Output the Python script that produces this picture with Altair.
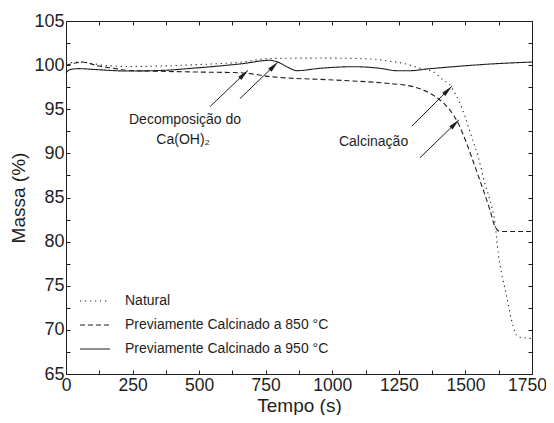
import altair as alt
import pandas as pd

# ---- data ----
series_names = ["Natural",
                "Previamente Calcinado a 850 °C",
                "Previamente Calcinado a 950 °C"]

t_nat = [0, 50, 150, 235, 360, 485, 661, 766, 950, 1141, 1204, 1267, 1329, 1379,
         1417, 1442, 1461, 1479, 1498, 1523, 1548, 1573, 1592, 1611, 1623, 1636,
         1655, 1673, 1698, 1736, 1750]
m_nat = [100.2, 100.35, 99.95, 99.85, 99.9, 100.05, 100.35, 100.75, 100.8, 100.7,
         100.5, 100.2, 99.65, 99.25, 98.3, 97.75, 96.8, 95.7, 94.2, 91.9, 89.6,
         86.6, 84.7, 82.1, 78.7, 76.4, 73.8, 71.1, 69.2, 69.05, 69.0]

t_850 = [0, 35, 60, 85, 123, 173, 235, 360, 485, 648, 700, 766, 1016, 1204, 1304,
         1367, 1404, 1442, 1473, 1505, 1536, 1567, 1592, 1611, 1630, 1750]
m_850 = [99.98, 100.24, 100.35, 100.2, 99.9, 99.67, 99.4, 99.3, 99.22, 99.14, 99.0,
         98.7, 98.3, 97.94, 97.56, 96.8, 96.05, 94.9, 93.4, 91.1, 88.5, 85.85, 83.6,
         81.7, 81.15, 81.15]

t_950 = [0, 16, 48, 110, 235, 360, 485, 661, 766, 791, 841, 866, 954, 1079, 1179,
         1242, 1292, 1354, 1454, 1580, 1750]
m_950 = [99.15, 99.5, 99.6, 99.5, 99.33, 99.4, 99.67, 100.16, 100.55, 100.4, 99.64,
         99.37, 99.64, 99.82, 99.64, 99.37, 99.37, 99.56, 99.82, 100.1, 100.35]

x_label_values = [0, 250, 500, 750, 1000, 1250, 1500, 1750]
y_label_values = [65, 70, 75, 80, 85, 90, 95, 100, 105]
x_tick_values = [i * 125 for i in range(15)]
y_tick_values = [65 + i * 2.5 for i in range(17)]

# annotation arrows: tail (t1, y1) -> head (t2, y2)
arrow_t1 = [541, 653, 1299, 1329]
arrow_y1 = [95.3, 96.2, 93.1, 89.5]
arrow_t2 = [683, 796, 1449, 1476]
arrow_y2 = [99.4, 100.35, 97.6, 93.8]

note_text = ["Decomposição do", "Ca(OH)₂", "Calcinação"]
note_t = [447, 440, 1155]
note_y = [93.75, 91.5, 91.3]

# ---- tables ----
rows = []
for name, ts, ms in zip(series_names, [t_nat, t_850, t_950], [m_nat, m_850, m_950]):
    for t, m in zip(ts, ms):
        rows.append({"serie": name, "t": t, "m": m})
df = pd.DataFrame(rows)
arrows = pd.DataFrame({"t1": arrow_t1, "y1": arrow_y1, "t2": arrow_t2, "y2": arrow_y2})
notes = pd.DataFrame({"txt": note_text, "t": note_t, "y": note_y})

FONT = "Liberation Sans"
INK = "#1e1e1e"
W, H = 466, 353

xs = alt.Scale(domain=[0, 1750], nice=False, zero=False)
ys = alt.Scale(domain=[65, 105], nice=False, zero=False)

lines = alt.Chart(df).mark_line(color=INK, strokeWidth=1.1, interpolate="monotone").encode(
    x=alt.X("t:Q", scale=xs,
            axis=alt.Axis(orient="bottom", values=x_label_values, format="d", ticks=False,
                          domain=False, grid=False, labelFlush=False, labelFontSize=17.5,
                          labelOffset={"condition": {"test": "datum.value >= 1750", "value": -5},
                                       "value": 0},
                          labelPadding=2, labelColor=INK, title="Tempo (s)", titleFontSize=19,
                          titleFontWeight="normal", titleColor=INK,
                          titleBaseline="alphabetic", titleY=37)),
    y=alt.Y("m:Q", scale=ys,
            axis=alt.Axis(orient="left", values=y_label_values, format="d", ticks=False,
                          domain=False, grid=False, labelFlush=False, labelFontSize=18,
                          labelPadding=2, labelColor=INK, title="Massa (%)", titleFontSize=19,
                          titleFontWeight="normal", titleColor=INK, titlePadding=5)),
    strokeDash=alt.StrokeDash(
        "serie:N",
        scale=alt.Scale(domain=series_names, range=[[1.2, 3.8], [5, 3], [1, 0]]),
        legend=alt.Legend(title=None, orient="none", legendX=22, legendY=273,
                          symbolType="M-3,0L3,0", symbolSize=100,
                          symbolStrokeColor=INK, symbolStrokeWidth=1.1,
                          symbolFillColor="transparent", labelLimit=0,
                          labelFontSize=14, labelColor=INK, labelOffset=23,
                          rowPadding=10, padding=0)),
    detail="serie:N",
    order="t:Q",
)

tick_axis_x_a = alt.Axis(orient="top", offset=-H, labels=False, title=None, domain=False,
                         grid=False, ticks=True, tickSize=4, tickColor=INK,
                         values=x_tick_values)
tick_axis_y_a = alt.Axis(orient="right", offset=-W, labels=False, title=None, domain=False,
                         grid=False, ticks=True, tickSize=4, tickColor=INK,
                         values=y_tick_values)
tick_axis_x_b = alt.Axis(orient="bottom", offset=-H, labels=False, title=None, domain=False,
                         grid=False, ticks=True, tickSize=4, tickColor=INK,
                         values=x_tick_values)
tick_axis_y_b = alt.Axis(orient="left", offset=-W, labels=False, title=None, domain=False,
                         grid=False, ticks=True, tickSize=4, tickColor=INK,
                         values=y_tick_values)

arrow_lines = alt.Chart(arrows).mark_rule(color=INK, strokeWidth=1).encode(
    x=alt.X("t1:Q", scale=xs, axis=tick_axis_x_a),
    y=alt.Y("y1:Q", scale=ys, axis=tick_axis_y_a),
    x2="t2:Q",
    y2="y2:Q",
)

arrow_heads = alt.Chart(arrows).mark_point(
    shape="M0,0L0.4,2L-0.4,2Z", size=130, angle=45, filled=True,
    color=INK, opacity=1, strokeWidth=0
).encode(
    x=alt.X("t2:Q", scale=xs, axis=tick_axis_x_b),
    y=alt.Y("y2:Q", scale=ys, axis=tick_axis_y_b),
)

texts = alt.Chart(notes).mark_text(font=FONT, fontSize=14, color=INK, baseline="middle",
                                   align="center").encode(
    x=alt.X("t:Q", scale=xs, axis=None),
    y=alt.Y("y:Q", scale=ys, axis=None),
    text="txt:N",
)

chart = alt.layer(lines, arrow_lines, arrow_heads, texts).resolve_axis(
    x="independent", y="independent"
).properties(
    width=W, height=H,
    autosize=alt.AutoSizeParams(type="none"),
    padding={"left": 58, "top": 13, "right": 14, "bottom": 41},
    background="white",
).configure_view(
    stroke=INK, strokeWidth=1
).configure_axis(
    labelFont=FONT, titleFont=FONT
).configure_legend(
    labelFont=FONT
)

chart.save("out.html", embed_options={"renderer": "svg", "actions": False})
